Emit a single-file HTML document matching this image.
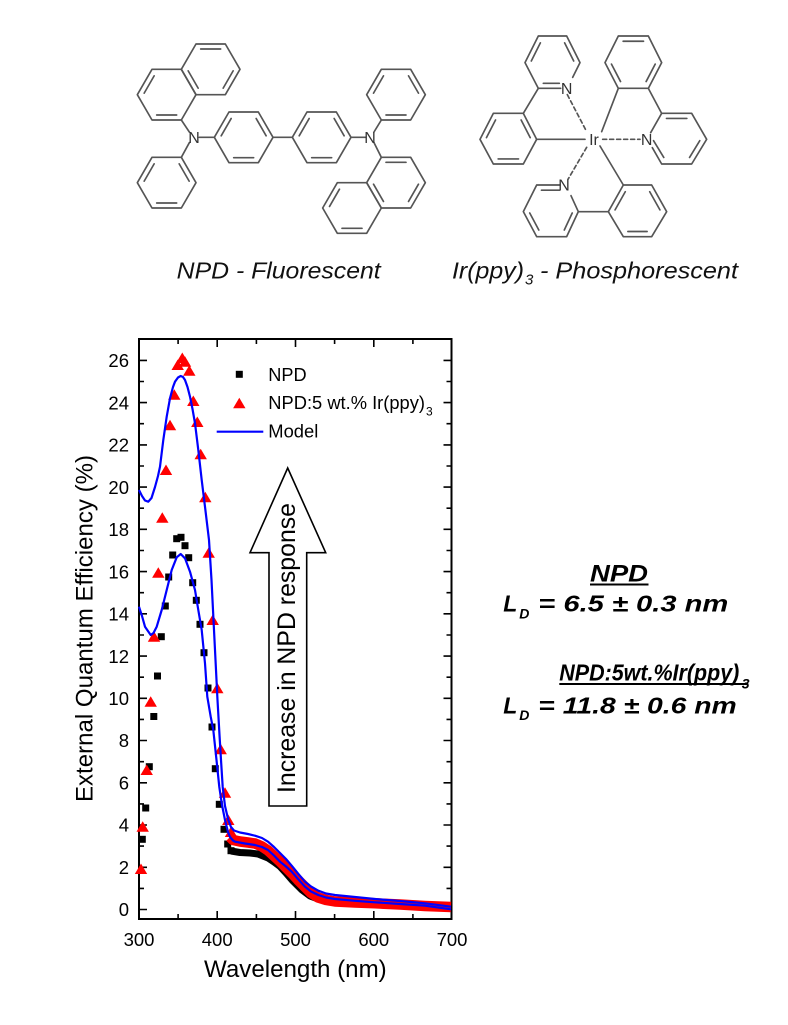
<!DOCTYPE html>
<html><head><meta charset="utf-8"><style>
html,body{margin:0;padding:0;background:#fff;}
svg{display:block;}
text{font-family:"Liberation Sans",Arial,sans-serif;}
</style></head><body>
<svg width="788" height="1025" viewBox="0 0 788 1025" xmlns="http://www.w3.org/2000/svg">
<rect width="788" height="1025" fill="#fff"/>
<defs>
<polygon id="t" points="-6.2,5 6.2,5 0,-5.5" fill="#ff0000"/>
<rect id="s" x="-3.5" y="-3.5" width="7" height="7" fill="#000"/>
</defs>

<!-- NPD structure -->
<g transform="translate(120,20) scale(0.33333)" stroke="#555" stroke-width="5" fill="none" stroke-linecap="round" stroke-linejoin="round">
<polygon points="184,148 228,72 316,72 360,148 316,224 228,224"/>
<polygon points="52,224 96,148 184,148 228,224 184,300 96,300"/>
<polygon points="52,488 96,412 184,412 228,488 184,564 96,564"/>
<polygon points="283,352 327,276 415,276 459,352 415,428 327,428"/>
<polygon points="517,352 561,276 649,276 693,352 649,428 561,428"/>
<polygon points="740,224 784,148 872,148 916,224 872,300 784,300"/>
<polygon points="740,488 784,412 872,412 916,488 872,564 784,564"/>
<polygon points="608,564 652,488 740,488 784,564 740,640 652,640"/>
<path d="M242,87L302,87 M339.4,152.6L309.6,204.4 M234.4,204.4L204.6,152.6
M72.6,219.4L102.4,167.6 M170,285L110,285
M72.6,483.4L102.4,431.6 M177.6,431.6L207.4,483.4 M170,549L110,549
M303.6,347.4L333.4,295.6 M408.6,295.6L438.4,347.4 M401,413L341,413
M537.6,347.4L567.4,295.6 M642.6,295.6L672.4,347.4 M635,413L575,413
M760.6,219.4L790.4,167.6 M865.6,167.6L895.4,219.4 M858,285L798,285
M798,427L858,427 M895.4,492.6L865.6,544.4 M790.4,544.4L760.6,492.6
M628.6,559.4L658.4,507.6 M726,625L666,625
M184,300L208,336 M208,368L184,412 M238,352L283,352 M459,352L517,352 M693,352L736,352 M762,336L784,300 M762,368L784,412"/>
<text x="222" y="369" font-size="48" fill="#333" stroke="none" text-anchor="middle">N</text>
<text x="750" y="369" font-size="48" fill="#333" stroke="none" text-anchor="middle">N</text>
</g>

<!-- Ir(ppy)3 structure -->
<g transform="translate(460,20) scale(0.33333)" stroke="#555" stroke-width="5" fill="none" stroke-linecap="round" stroke-linejoin="round">
<path d="M338,172L360,128L320,48L235,48L195,128L235,205L302,205"/>
<polygon points="100,280 190,280 230,358 190,432 100,432 60,358"/>
<polygon points="475,48 565,48 605,128 565,205 475,205 435,128"/>
<path d="M572,338L605,280L695,280L740,358L695,432L605,432L577,383"/>
<path d="M300,495L230,495L190,575L230,650L320,650L355,575L333,527"/>
<polygon points="490,495 575,495 620,575 575,650 490,650 445,575"/>
<path d="M213.9,122.9L241.1,68.5 M313.9,68.5L341.1,122.9 M250,190L298,190
M79.4,352.9L106.6,299.9 M183.4,299.9L210.6,352.9 M114.4,416.8L175.6,416.8
M489.4,63.7L550.6,63.7 M585.6,132.3L558.4,184.7 M454.4,132.3L481.6,184.7
M619.4,295.2L680.6,295.2 M719.3,362L688.7,412.4 M580.7,362L611.3,412.4
M244.4,510.6L298,510.6 M209.2,579.1L236.4,630.1 M312.9,630.1L336.7,579.1
M465.2,569.7L495.8,515.3 M569.2,515.3L599.8,569.7 M503.6,634.5L561.4,634.5
M235,205L190,280 M230,358L375,358 M475,205L425,335 M565,205L605,280 M420,378L490,495 M355,575L445,575"/>
<path d="M322,224L380,335 M428,358L540,358 M380,382L324,478" stroke-dasharray="12,9"/>
<g fill="#333" stroke="none" font-size="48" text-anchor="middle">
<text x="320" y="222">N</text>
<text x="402" y="375">Ir</text>
<text x="560" y="375">N</text>
<text x="312" y="512">N</text>
</g>
</g>

<!-- labels under structures -->
<text x="176.7" y="278.7" font-size="23" font-style="italic" fill="#111" textLength="204" lengthAdjust="spacingAndGlyphs">NPD - Fluorescent</text>
<text x="452" y="278.7" font-size="23" font-style="italic" fill="#111" textLength="72" lengthAdjust="spacingAndGlyphs">Ir(ppy)</text>
<text x="525" y="284.5" font-size="15" font-style="italic" fill="#111">3</text>
<text x="540" y="278.7" font-size="23" font-style="italic" fill="#111" textLength="198" lengthAdjust="spacingAndGlyphs">- Phosphorescent</text>

<!-- Plot -->
<!-- ticks -->
<g stroke="#000" stroke-width="1.6" fill="none">
<path d="M139,909.5h8 M139,867.3h8 M139,825h8 M139,782.8h8 M139,740.5h8 M139,698.3h8 M139,656.1h8 M139,613.8h8 M139,571.6h8 M139,529.3h8 M139,487.1h8 M139,444.9h8 M139,402.6h8 M139,360.4h8
M139,888.4h5 M139,846.1h5 M139,803.9h5 M139,761.7h5 M139,719.4h5 M139,677.2h5 M139,635h5 M139,592.7h5 M139,550.5h5 M139,508.2h5 M139,466h5 M139,423.7h5 M139,381.5h5"/>
<path d="M451.5,909.5h-8 M451.5,867.3h-8 M451.5,825h-8 M451.5,782.8h-8 M451.5,740.5h-8 M451.5,698.3h-8 M451.5,656.1h-8 M451.5,613.8h-8 M451.5,571.6h-8 M451.5,529.3h-8 M451.5,487.1h-8 M451.5,444.9h-8 M451.5,402.6h-8 M451.5,360.4h-8
M451.5,888.4h-5 M451.5,846.1h-5 M451.5,803.9h-5 M451.5,761.7h-5 M451.5,719.4h-5 M451.5,677.2h-5 M451.5,635h-5 M451.5,592.7h-5 M451.5,550.5h-5 M451.5,508.2h-5 M451.5,466h-5 M451.5,423.7h-5 M451.5,381.5h-5"/>
<path d="M217.2,919v-8 M295.5,919v-8 M373.8,919v-8 M178.1,919v-5 M256.4,919v-5 M334.6,919v-5 M412.9,919v-5
M217.2,339v8 M295.5,339v8 M373.8,339v8 M178.1,339v5 M256.4,339v5 M334.6,339v5 M412.9,339v5"/>
</g>
<rect x="139" y="339" width="312.5" height="580" fill="none" stroke="#000" stroke-width="2"/>

<!-- tick labels -->
<g font-size="18.5" fill="#000" text-anchor="end">
<text x="129" y="916">0</text>
<text x="129" y="874">2</text>
<text x="129" y="831.7">4</text>
<text x="129" y="789.5">6</text>
<text x="129" y="747.2">8</text>
<text x="129" y="705">10</text>
<text x="129" y="662.8">12</text>
<text x="129" y="620.5">14</text>
<text x="129" y="578.3">16</text>
<text x="129" y="536">18</text>
<text x="129" y="493.8">20</text>
<text x="129" y="451.6">22</text>
<text x="129" y="409.3">24</text>
<text x="129" y="367.1">26</text>
</g>
<g font-size="18.5" fill="#000" text-anchor="middle">
<text x="139" y="946">300</text>
<text x="217.2" y="946">400</text>
<text x="295.5" y="946">500</text>
<text x="373.8" y="946">600</text>
<text x="452" y="946">700</text>
</g>
<text x="204" y="977" font-size="24" fill="#000" textLength="182.7" lengthAdjust="spacingAndGlyphs">Wavelength (nm)</text>
<text transform="translate(92.3,802) rotate(-90)" x="0" y="0" font-size="24" fill="#000" textLength="347" lengthAdjust="spacingAndGlyphs">External Quantum Efficiency (%)</text>

<!-- arrow -->
<polygon points="287.7,468 250,552.7 269,552.7 269,806 306.7,806 306.7,552.7 325.7,552.7" fill="#fff" stroke="#000" stroke-width="1.6" stroke-linejoin="miter"/>
<text transform="translate(295,793) rotate(-90)" x="0" y="0" font-size="25" fill="#000" textLength="290" lengthAdjust="spacingAndGlyphs">Increase in NPD response</text>

<!-- dense bands -->
<polyline fill="none" stroke="#000" stroke-width="7" stroke-linejoin="round" points="231,851 240,852.5 250,853 258,854 263,856 268,858 274,862 280,866.5 286,873 292,880 297,885 302,890 310,896 318,899 330,901 360,903 400,905 451,908"/>
<g>
<use href="#s" x="142.3" y="839.3"/><use href="#s" x="145.7" y="808"/><use href="#s" x="149.3" y="766.7"/>
<use href="#s" x="153.8" y="716.5"/><use href="#s" x="157.5" y="676"/><use href="#s" x="161.3" y="636.7"/>
<use href="#s" x="165.3" y="606"/><use href="#s" x="168.7" y="577"/><use href="#s" x="172.7" y="555"/>
<use href="#s" x="176.7" y="538.7"/><use href="#s" x="181" y="537.3"/><use href="#s" x="185" y="545.7"/>
<use href="#s" x="188.7" y="557.7"/><use href="#s" x="192.7" y="582.7"/><use href="#s" x="196.3" y="600.3"/>
<use href="#s" x="200" y="624.3"/><use href="#s" x="204" y="652.7"/><use href="#s" x="208" y="688"/>
<use href="#s" x="212" y="727"/><use href="#s" x="215.3" y="768.7"/><use href="#s" x="219.3" y="804.3"/>
<use href="#s" x="224" y="829.3"/><use href="#s" x="227.7" y="844"/><use href="#s" x="231" y="850.7"/>
</g>
<polyline fill="none" stroke="#ff0000" stroke-width="10.5" stroke-linejoin="round" points="230,837 233,840 240,841.5 248,842.5 255,843.5 262,846.5 268,850.5 274,856 280,861.5 286,867.5 292,873.5 298,880 305,887 311,893 318,897.5 326,900 335,901.5 355,902.5 375,903.3 400,904.5 425,906 451,907"/>
<g>
<use href="#t" x="141" y="869"/><use href="#t" x="142.7" y="826.7"/><use href="#t" x="146.7" y="770"/>
<use href="#t" x="150.7" y="701.7"/><use href="#t" x="154" y="636.7"/><use href="#t" x="158.3" y="572.7"/>
<use href="#t" x="162.3" y="517.7"/><use href="#t" x="166" y="470"/><use href="#t" x="170" y="425.3"/>
<use href="#t" x="174.3" y="394.7"/><use href="#t" x="177.7" y="365"/><use href="#t" x="182.3" y="358"/>
<use href="#t" x="185" y="361.7"/><use href="#t" x="189.3" y="370.7"/><use href="#t" x="193.3" y="401"/>
<use href="#t" x="197.3" y="422"/><use href="#t" x="200.7" y="454.3"/><use href="#t" x="205.3" y="497.3"/>
<use href="#t" x="208.7" y="552.7"/><use href="#t" x="212.7" y="620"/><use href="#t" x="217.3" y="688.3"/>
<use href="#t" x="220.7" y="749.3"/><use href="#t" x="225" y="792.7"/><use href="#t" x="228.3" y="820"/>
<use href="#t" x="231" y="832"/>
</g>

<!-- model curves -->
<g fill="none" stroke="#0000ff" stroke-width="2.2" stroke-linejoin="round">
<polyline points="139,490 142,496 145,500.5 148.3,501.7 151.5,498 155,487 158,476 160,466.7 163.3,440 166.7,416.7 170,398.3 173,387 175,381.7 178,377.5 180.7,376 183,377 185,380 187.5,387 190,396.7 192.5,409 195,423.3 198.3,450 201.7,480 205,506.7 209,540 211.5,580 213.5,620 215.5,660 217.5,700 219.5,735 221,760 222.7,787 225,806 228.3,820 231,827 234,830.5 240,832.5 248,834 255,835.7 262,838 268,841.7 274,847 280,853 286,859 291.7,865.7 298,873.5 305,881.7 311,886.5 318.3,890.7 326,893.5 335,895 355,897 375,899 400,901 425,903.3 451,906.7"/>
<polyline points="139,606.7 142,616 145,626.7 150.7,635 153.5,633 156.7,626.7 161.7,610 166.7,590 171.7,570 176.7,557.3 180.7,554 185,558.3 190,571.7 195,590 198.3,610 201.7,630 205,663.3 207.3,696.7 210.7,716.7 213.3,730 216.5,760 219.3,787 222,805 225,820 228,832 230,837 233,840.5 235,841.7 245,843.5 255,845 262,847 268,850 274,855.5 280,861.7 286,866.5 291.7,871.7 298,879 305,886.7 311,891.5 318.3,895 326,897.5 335,899 355,900.8 375,902.3 400,904 425,905.7 451,909.3"/>
</g>

<!-- legend -->
<use href="#s" x="239.3" y="374.3"/>
<use href="#t" x="239.3" y="403.3"/>
<line x1="216.7" y1="431.7" x2="263.3" y2="431.7" stroke="#0000ff" stroke-width="2.2"/>
<g font-size="18" fill="#000">
<text x="268.3" y="381" textLength="38.4" lengthAdjust="spacingAndGlyphs">NPD</text>
<text x="268.3" y="409" textLength="156.7" lengthAdjust="spacingAndGlyphs">NPD:5 wt.% Ir(ppy)</text>
<text x="426" y="415.7" font-size="12">3</text>
<text x="268.3" y="437.3" textLength="50" lengthAdjust="spacingAndGlyphs">Model</text>
</g>

<!-- right annotation -->
<g font-weight="bold" font-style="italic" fill="#000">
<text x="590" y="581.7" font-size="24" textLength="58" lengthAdjust="spacingAndGlyphs">NPD</text>
<rect x="590" y="583.5" width="58.5" height="2" fill="#000"/>
<text x="503.3" y="611.7" font-size="23">L</text>
<text x="519.3" y="618.3" font-size="14">D</text>
<text x="538.3" y="611.7" font-size="23" textLength="190" lengthAdjust="spacingAndGlyphs">= 6.5 ± 0.3 nm</text>
<text x="559.3" y="680.7" font-size="23" textLength="180" lengthAdjust="spacingAndGlyphs">NPD:5wt.%Ir(ppy)</text>
<text x="741.7" y="688.3" font-size="14">3</text>
<rect x="559.3" y="683" width="189" height="2" fill="#000"/>
<text x="503.3" y="713.3" font-size="23">L</text>
<text x="519.3" y="720" font-size="14">D</text>
<text x="538.3" y="713.3" font-size="23" textLength="198.4" lengthAdjust="spacingAndGlyphs">= 11.8 ± 0.6 nm</text>
</g>
</svg>
</body></html>
